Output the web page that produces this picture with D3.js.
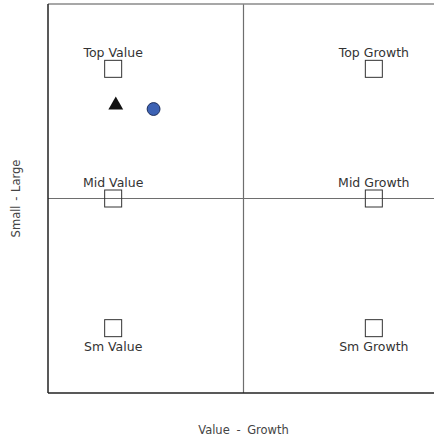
<!DOCTYPE html>
<html>
<head>
<meta charset="utf-8">
<script src="https://cdn.jsdelivr.net/npm/d3@7"></script>
<style>
  body { margin: 0; background: #fff; }
  text { font-family: 'DejaVu Sans', Verdana, sans-serif; }
</style>
</head>
<body>
<div id="chart"></div>
<script>
// style box anchors
var boxNames = ["Top Value", "Top Growth", "Mid Value", "Mid Growth", "Sm Value", "Sm Growth"];
var boxX = [-1, 1, -1, 1, -1, 1];
var boxY = [1, 1, 0, 0, -1, -1];

// fund points
var fundShapes = ["triangle", "circle"];
var fundX = [-0.98, -0.69];
var fundY = [0.72, 0.69];

var xTitle = "Value - Growth",
    yTitle = "Small - Large";

var W = 434, H = 439;
var margin = { top: 4, right: -5, bottom: 46, left: 48 };

var x = d3.scaleLinear().domain([-1.5, 1.5]).range([margin.left, W - margin.right]);
var y = d3.scaleLinear().domain([-1.5, 1.5]).range([H - margin.bottom, margin.top]);

var svg = d3.select("#chart").append("svg")
    .attr("width", W)
    .attr("height", H);

// quadrant lines
svg.append("line")
    .attr("x1", x(0)).attr("x2", x(0))
    .attr("y1", y(1.5)).attr("y2", y(-1.5))
    .attr("stroke", "#6e6e6e").attr("stroke-width", 1.2);
svg.append("line")
    .attr("x1", x(-1.5)).attr("x2", x(1.5))
    .attr("y1", y(0)).attr("y2", y(0))
    .attr("stroke", "#6e6e6e").attr("stroke-width", 1.2);

// frame
svg.append("line")
    .attr("x1", x(-1.5)).attr("x2", x(1.5))
    .attr("y1", y(1.5)).attr("y2", y(1.5))
    .attr("stroke", "#8a8a8a").attr("stroke-width", 1.5);
svg.append("line")
    .attr("x1", x(-1.5)).attr("x2", x(-1.5))
    .attr("y1", y(1.5)).attr("y2", y(-1.5))
    .attr("stroke", "#222").attr("stroke-width", 1.5);
svg.append("line")
    .attr("x1", x(-1.5)).attr("x2", x(1.5))
    .attr("y1", y(-1.5)).attr("y2", y(-1.5))
    .attr("stroke", "#222").attr("stroke-width", 1.5);

// boxes
var sq = 17;
var boxes = boxNames.map(function (d, i) { return { name: d, x: boxX[i], y: boxY[i] }; });

svg.selectAll(".box")
    .data(boxes)
    .enter().append("rect")
    .attr("class", "box")
    .attr("x", function (d) { return x(d.x) - sq / 2; })
    .attr("y", function (d) { return y(d.y) - sq / 2; })
    .attr("width", sq)
    .attr("height", sq)
    .attr("fill", "none")
    .attr("stroke", "#333")
    .attr("stroke-width", 1);

svg.selectAll(".boxlabel")
    .data(boxes)
    .enter().append("text")
    .attr("class", "boxlabel")
    .attr("x", function (d) { return x(d.x); })
    .attr("y", function (d) { return d.y < 0 ? y(d.y) + sq / 2 + 14 : y(d.y) - sq / 2 - 3; })
    .attr("text-anchor", "middle")
    .attr("font-size", 12.5)
    .attr("fill", "#333")
    .text(function (d) { return d.name; });

// fund markers
var funds = fundShapes.map(function (d, i) { return { shape: d, x: fundX[i], y: fundY[i] }; });

svg.selectAll(".fund")
    .data(funds)
    .enter().append("path")
    .attr("class", "fund")
    .attr("transform", function (d) { return "translate(" + x(d.x) + "," + y(d.y) + ")"; })
    .attr("d", function (d) {
        return d.shape == "triangle"
            ? d3.symbol().type(d3.symbolTriangle).size(95)()
            : d3.symbol().type(d3.symbolCircle).size(130)();
    })
    .attr("fill", function (d) { return d.shape == "triangle" ? "#111" : "#3d62b4"; })
    .attr("stroke", function (d) { return d.shape == "triangle" ? "none" : "#1e2f5c"; })
    .attr("stroke-width", 1);

// axis titles
svg.append("text")
    .attr("x", x(0))
    .attr("y", 434)
    .attr("text-anchor", "middle")
    .attr("font-size", 11.5)
    .attr("word-spacing", 3)
    .attr("fill", "#444")
    .text(xTitle);

svg.append("text")
    .attr("transform", "translate(20," + y(0) + ") rotate(-90)")
    .attr("text-anchor", "middle")
    .attr("font-size", 11.5)
    .attr("word-spacing", 1)
    .attr("fill", "#444")
    .text(yTitle);
</script>
</body>
</html>
